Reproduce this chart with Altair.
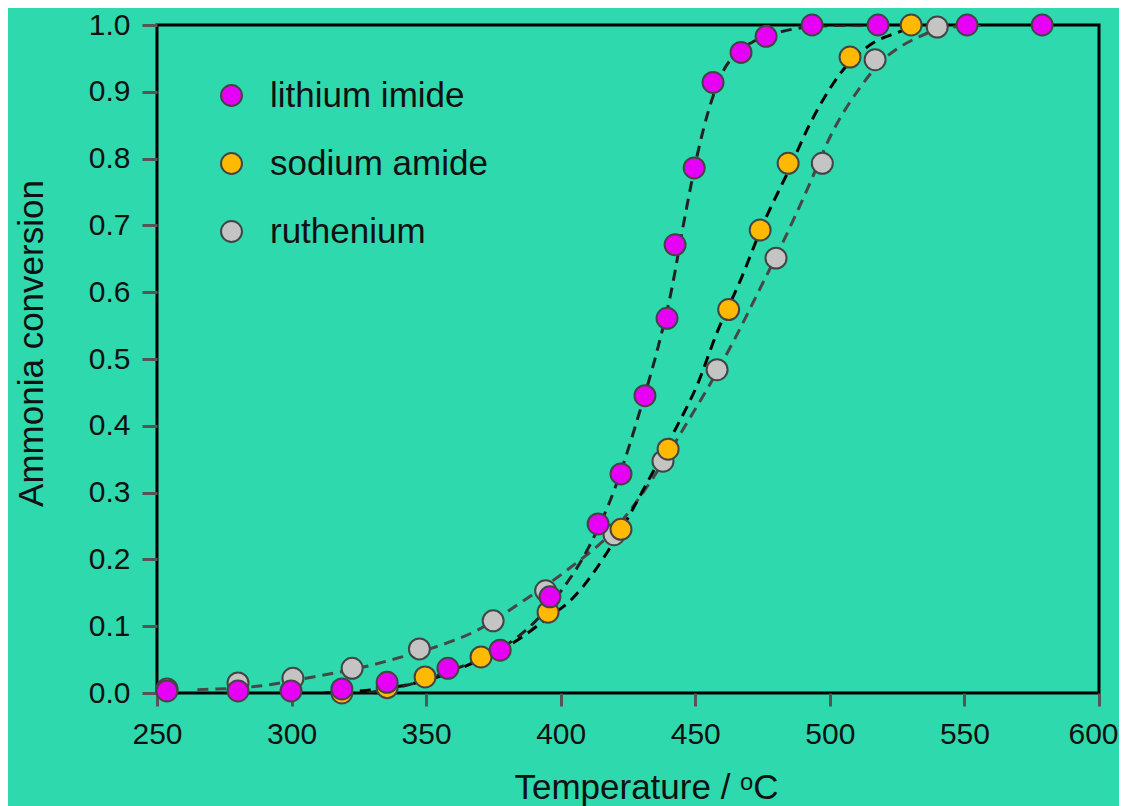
import altair as alt
import pandas as pd

SERIES = ["lithium imide", "sodium amide", "ruthenium"]
FILL_COLORS = ["#E600F5", "#FFBA00", "#C4C4C4"]
CURVES = ["lithium imide fit", "sodium amide fit", "ruthenium fit"]
LINE_COLORS = ["#222222", "#000000", "#474747"]

# measured points
li_T = [253.7, 280.1, 299.8, 318.7, 335.5, 358.1, 377.5, 396.0, 413.9, 422.4, 431.3,
        439.5, 442.5, 449.6, 456.6, 467.0, 476.3, 493.4, 517.9, 551.0, 578.9]
li_y = [0.003, 0.003, 0.003, 0.006, 0.016, 0.037, 0.064, 0.144, 0.253, 0.328, 0.445,
        0.561, 0.671, 0.786, 0.914, 0.959, 0.983, 1.0, 1.0, 1.0, 1.0]

na_T = [318.7, 335.5, 349.6, 370.4, 395.3, 422.4, 439.9, 462.4, 474.1, 484.5, 507.5, 530.2]
na_y = [0.0, 0.008, 0.024, 0.054, 0.121, 0.245, 0.365, 0.574, 0.693, 0.793, 0.952, 1.0]

ru_T = [253.7, 280.1, 300.5, 322.5, 347.5, 374.9, 394.4, 419.8, 438.0, 458.1, 480.0,
        497.2, 516.8, 539.9]
ru_y = [0.006, 0.015, 0.022, 0.037, 0.066, 0.108, 0.153, 0.237, 0.347, 0.484, 0.651,
        0.793, 0.948, 0.997]

# fitted (dashed) curves
li_fit_T = [328, 345, 360, 378, 390, 400, 410, 420, 430, 436, 441, 446, 451, 455, 460,
            466, 472, 484, 500, 520]
li_fit_y = [0.0, 0.014, 0.035, 0.067, 0.105, 0.152, 0.215, 0.305, 0.43, 0.515, 0.60,
            0.71, 0.81, 0.873, 0.928, 0.96, 0.976, 0.992, 0.999, 1.0]

na_fit_T = [312, 325, 340, 355, 370, 385, 395, 404, 420, 432, 442, 451, 458, 467, 475,
            485, 492, 504, 516, 526, 532]
na_fit_y = [0.0, 0.003, 0.01, 0.025, 0.05, 0.082, 0.112, 0.14, 0.228, 0.314, 0.39,
            0.464, 0.539, 0.62, 0.70, 0.785, 0.847, 0.928, 0.973, 0.99, 1.0]

ru_fit_T = [265, 287, 308, 328, 341, 352, 369, 385, 403, 420, 438, 447, 454, 464, 474,
            482, 491.5, 501, 511, 519, 526, 533, 540, 556]
ru_fit_y = [0.005, 0.01, 0.024, 0.04, 0.054, 0.067, 0.094, 0.135, 0.186, 0.245, 0.345,
            0.405, 0.452, 0.525, 0.605, 0.67, 0.753, 0.84, 0.905, 0.945, 0.967, 0.982,
            0.993, 1.0]

x_ticks = [250, 300, 350, 400, 450, 500, 550, 600]
y_ticks = [0.0, 0.1, 0.2, 0.3, 0.4, 0.5, 0.6, 0.7, 0.8, 0.9, 1.0]

# drawing order: ruthenium, sodium amide, lithium imide on top
pts = pd.concat([
    pd.DataFrame({"T": ru_T, "y": ru_y, "series": "ruthenium"}),
    pd.DataFrame({"T": na_T, "y": na_y, "series": "sodium amide"}),
    pd.DataFrame({"T": li_T, "y": li_y, "series": "lithium imide"}),
], ignore_index=True)

fits = pd.concat([
    pd.DataFrame({"T": ru_fit_T, "y": ru_fit_y, "curve": "ruthenium fit"}),
    pd.DataFrame({"T": na_fit_T, "y": na_fit_y, "curve": "sodium amide fit"}),
    pd.DataFrame({"T": li_fit_T, "y": li_fit_y, "curve": "lithium imide fit"}),
], ignore_index=True)

FONT = "Liberation Sans"

x_enc = alt.X(
    "T:Q",
    scale=alt.Scale(domain=[250, 600], nice=False, zero=False),
    axis=alt.Axis(
        values=x_ticks, format="d", title="Temperature / ᵒC",
        tickSize=13, labelPadding=13, labelFlush=False,
        labelOffset={"condition": {"test": "datum.value == 600", "value": -6}, "value": 0},
        titleX=489, titleY=105, titleBaseline="alphabetic", titleAlign="center",
    ),
)
y_enc = alt.Y(
    "y:Q",
    scale=alt.Scale(domain=[0, 1], nice=False),
    axis=alt.Axis(
        values=y_ticks, format=".1f", title="Ammonia conversion",
        tickSize=15, labelPadding=12, labelFlush=False,
        titleX=-115, titleY=318, titleAngle=270, titleBaseline="alphabetic",
        titleAlign="center",
    ),
)

lines = alt.Chart(fits).mark_line(
    strokeWidth=3, strokeDash=[11, 7], interpolate="monotone", clip=True
).encode(
    x=x_enc,
    y=y_enc,
    stroke=alt.Stroke("curve:N", scale=alt.Scale(domain=CURVES, range=LINE_COLORS), legend=None),
    detail="curve:N",
)

points = alt.Chart(pts).mark_circle(
    size=440, opacity=1, stroke="#444444", strokeWidth=2
).encode(
    x=x_enc,
    y=y_enc,
    fill=alt.Fill(
        "series:N",
        scale=alt.Scale(domain=SERIES, range=FILL_COLORS),
        legend=alt.Legend(
            title=None, orient="none", legendX=57, legendY=53, padding=0,
            symbolType="circle", symbolSize=440, symbolStrokeColor="#444444",
            symbolStrokeWidth=2, symbolOpacity=1,
            labelFont=FONT, labelFontSize=35, labelColor="#111111",
            labelOffset=21, labelLimit=500, rowPadding=32,
        ),
    ),
)

chart = alt.layer(lines, points).resolve_legend(fill="independent").properties(
    width=942, height=668,
    autosize=alt.AutoSizeParams(type="none"),
    padding={"left": 149, "top": 17, "right": 20, "bottom": 125},
    background="#2FD9AE",
).configure_view(
    stroke="#000000", strokeWidth=3, fill="#2FD9AE"
).configure_axis(
    domain=False, grid=False,
    tickColor="#555555", tickWidth=3,
    labelFont=FONT, labelFontSize=30, labelColor="#111111",
    titleFont=FONT, titleFontSize=35, titleFontWeight="normal", titleColor="#111111",
)

chart.save("out.html", embed_options={"renderer": "svg", "actions": False})
